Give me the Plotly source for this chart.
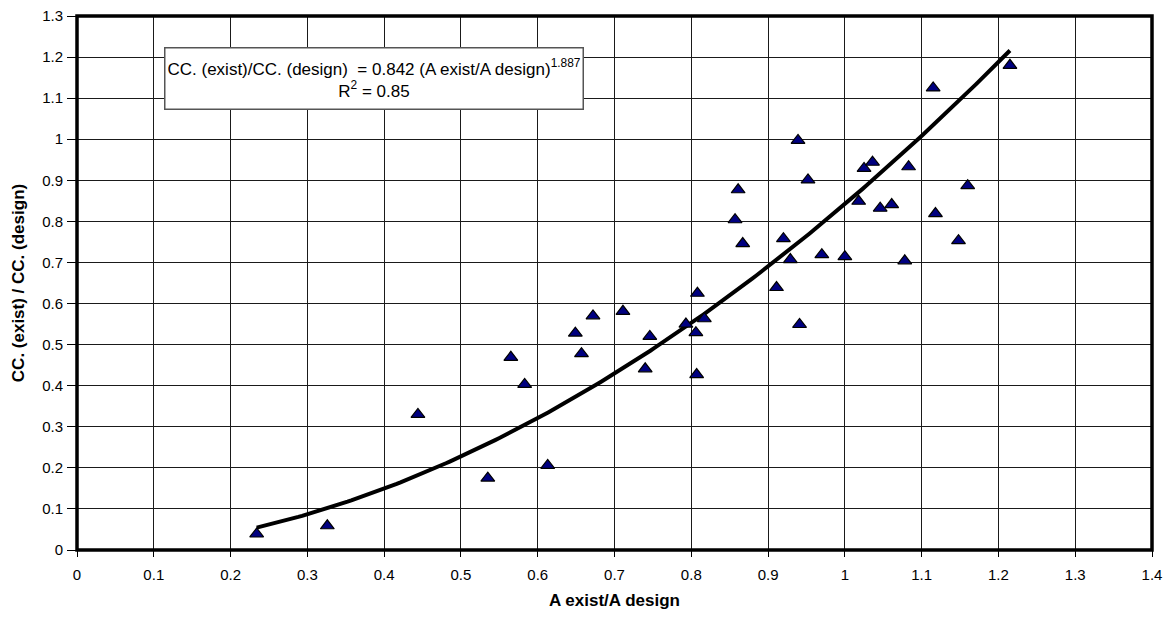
import numpy as np
import plotly.graph_objects as go

# Measured data: A exist/A design vs CC. (exist)/CC. (design)
a_ratio = [0.234, 0.326, 0.444, 0.535, 0.565, 0.583, 0.613, 0.649, 0.657, 0.672,
           0.711, 0.740, 0.746, 0.793, 0.806, 0.807, 0.808, 0.817, 0.857, 0.861,
           0.867, 0.911, 0.920, 0.929, 0.939, 0.941, 0.952, 0.970, 1.000, 1.018,
           1.025, 1.036, 1.046, 1.061, 1.078, 1.083, 1.115, 1.118, 1.148, 1.160,
           1.215]
cc_ratio = [0.039, 0.059, 0.330, 0.175, 0.469, 0.403, 0.206, 0.528, 0.478, 0.570,
            0.581, 0.441, 0.520, 0.550, 0.529, 0.427, 0.625, 0.563, 0.804, 0.877,
            0.746, 0.639, 0.758, 0.707, 0.997, 0.549, 0.901, 0.719, 0.714, 0.849,
            0.929, 0.944, 0.832, 0.841, 0.704, 0.933, 1.125, 0.819, 0.753, 0.887,
            1.180]

# Power trendline coefficients shown on the chart
coef_a = 0.842
coef_b = 1.887
r_squared = 0.85

x_ticks = [round(0.1 * i, 1) for i in range(15)]
y_ticks = [round(0.1 * i, 1) for i in range(14)]

xs = np.linspace(min(a_ratio), max(a_ratio), 200)
ys = coef_a * xs ** coef_b

font_family = "Arial, Liberation Sans, sans-serif"

fig = go.Figure()
fig.add_trace(go.Scatter(x=xs, y=ys, mode="lines",
                         line=dict(color="black", width=4),
                         hoverinfo="skip", showlegend=False))
fig.add_trace(go.Scatter(x=a_ratio, y=cc_ratio, mode="markers",
                         marker=dict(symbol="triangle-up", size=12, color="#000080",
                                     line=dict(color="black", width=1.2)),
                         showlegend=False))

def fmt(v):
    s = f"{v:.1f}"
    return s[:-2] if s.endswith(".0") else s

fig.update_xaxes(range=[0, 1.4], tickvals=x_ticks, ticktext=[fmt(v) for v in x_ticks],
                 showgrid=True, gridcolor="#1a1a1a", gridwidth=1,
                 showline=False,
                 ticks="outside", ticklen=6, tickcolor="black", tickwidth=1,
                 ticklabelstandoff=5, zeroline=False, automargin=False,
                 ticklabeloverflow="allow",
                 tickfont=dict(family=font_family, size=15, color="black"),
                 title=dict(text="<b>A exist/A design</b>", standoff=12,
                            font=dict(family=font_family, size=17, color="black")))
fig.update_yaxes(range=[0, 1.3], tickvals=y_ticks, ticktext=[fmt(v) for v in y_ticks],
                 showgrid=True, gridcolor="#1a1a1a", gridwidth=1,
                 showline=False,
                 ticks="outside", ticklen=9, tickcolor="black", tickwidth=1,
                 ticklabelstandoff=1, zeroline=False, automargin=False,
                 ticklabeloverflow="allow",
                 tickfont=dict(family=font_family, size=15, color="black"),
                 title=dict(text="<b>CC. (exist) / CC. (design)</b>", standoff=13,
                            font=dict(family=font_family, size=17, color="black")))

# thick plot-area frame
fig.add_shape(type="rect", xref="paper", yref="paper", x0=0, y0=0, x1=1, y1=1,
              line=dict(color="black", width=3.5), layer="above")

fig.add_annotation(
    xref="x", yref="y", x=0.113, y=1.224, xanchor="left", yanchor="top",
    text=(f"CC. (exist)/CC. (design)  = {coef_a} (A exist/A design)"
          f"<sup>{coef_b}</sup><br>R<sup>2</sup> = {r_squared}"),
    showarrow=False, align="center", height=56,
    bgcolor="white", bordercolor="#555555", borderwidth=1.5, borderpad=2,
    font=dict(family=font_family, size=17, color="black"))

fig.update_layout(width=1168, height=617,
                  margin=dict(l=77, r=16, t=16, b=67),
                  paper_bgcolor="white", plot_bgcolor="white",
                  font=dict(family=font_family, color="black"))

# remove the page's default body margin so the figure fills the window exactly
fig.write_html("out.html", config={"displayModeBar": False},
               post_script="document.body.style.margin='0px';")
